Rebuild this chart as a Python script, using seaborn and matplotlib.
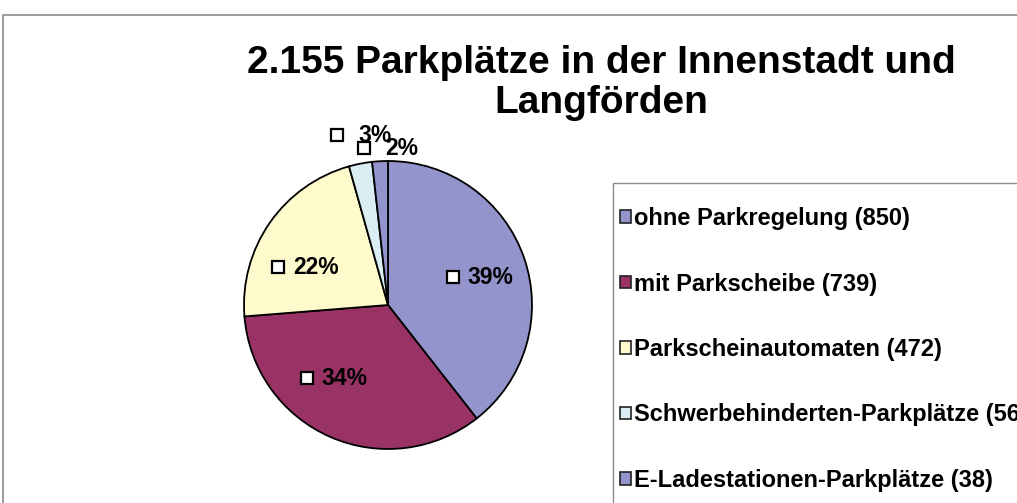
import matplotlib
matplotlib.use("Agg")
import matplotlib.pyplot as plt
from matplotlib.patches import Rectangle, Patch
from matplotlib.transforms import offset_copy
import numpy as np
import seaborn as sns

categories = ["ohne Parkregelung", "mit Parkscheibe", "Parkscheinautomaten",
              "Schwerbehinderten-Parkplätze", "E-Ladestationen-Parkplätze"]
counts = [850, 739, 472, 56, 38]
slice_colors = ["#9494CC", "#993366", "#FFFACC", "#DAEEF2", "#9494CC"]
title = "2.155 Parkplätze in der Innenstadt und\nLangförden"

sns.set_theme(style="white")
plt.rcParams["font.family"] = ["Liberation Sans", "DejaVu Sans"]
plt.rcParams["text.color"] = "black"

W, H = 1017, 503
fig = plt.figure(figsize=(W / 100, H / 100), dpi=100)

# outer chart frame (runs off the right/bottom edge like the screenshot)
fig.patches.append(Rectangle((3 / W, -0.1), 1.2, (H - 15) / H + 0.1,
                             transform=fig.transFigure, fill=False,
                             edgecolor="#8c8c8c", linewidth=1.2))

# pie axes: centre at (388, 305) px, radius 144 px
r_px = 144
cx, cy = 388, 305
span = 1.5
ax = fig.add_axes([(cx - span * r_px) / W, (H - cy - span * r_px) / H,
                   2 * span * r_px / W, 2 * span * r_px / H])
palette = sns.color_palette(slice_colors)
wedges, texts, autotexts = ax.pie(
    counts, colors=palette, startangle=90, counterclock=False,
    autopct=lambda p: "%.0f%%" % p, pctdistance=0.66,
    wedgeprops=dict(edgecolor="black", linewidth=1.3),
    textprops=dict(fontsize=16.5, fontweight="bold", color="black"))
ax.set_xlim(-span, span)
ax.set_ylim(-span, span)
ax.set_aspect("equal")
ax.axis("off")

# label placement (Excel "best fit"): radius and angle per slice
label_r = [0.74, 0.59, 0.565, 1.184, 1.094]
label_ang = [15.2, 239.5, 152.2, 94.4, 84.9]
key_shift = offset_copy(ax.transData, fig=fig, x=-38, y=0, units="dots")
for t, rr, a in zip(autotexts, label_r, label_ang):
    x, y = rr * np.cos(np.radians(a)), rr * np.sin(np.radians(a))
    t.set_position((x, y))
    ax.plot(x, y, marker="s", ms=8, mfc="white", mec="black", mew=1.6,
            transform=key_shift, clip_on=False)

fig.text(601 / W, 1 - 83 / H, title, ha="center", va="center",
         fontsize=28, fontweight="bold", linespacing=1.12, color="black")

# legend box
fig.patches.append(Rectangle((613 / W, -0.1), 1.0, (H - 183) / H + 0.1,
                             transform=fig.transFigure, fill=False,
                             edgecolor="#8c8c8c", linewidth=1.0))
handles = [Patch(facecolor=c, edgecolor="#222222", linewidth=1.2) for c in palette]
labels = ["%s (%d)" % (c, n) for c, n in zip(categories, counts)]
leg = fig.legend(handles, labels, loc="upper left",
                 bbox_to_anchor=(620 / W, 1 - 207 / H), bbox_transform=fig.transFigure,
                 frameon=False, borderpad=0, borderaxespad=0,
                 handlelength=0.45, handleheight=0.45, handletextpad=0.15,
                 labelspacing=1.8, prop=dict(size=17, weight="bold"))
for t in leg.get_texts():
    t.set_color("black")

fig.savefig("out.png", dpi=100)
